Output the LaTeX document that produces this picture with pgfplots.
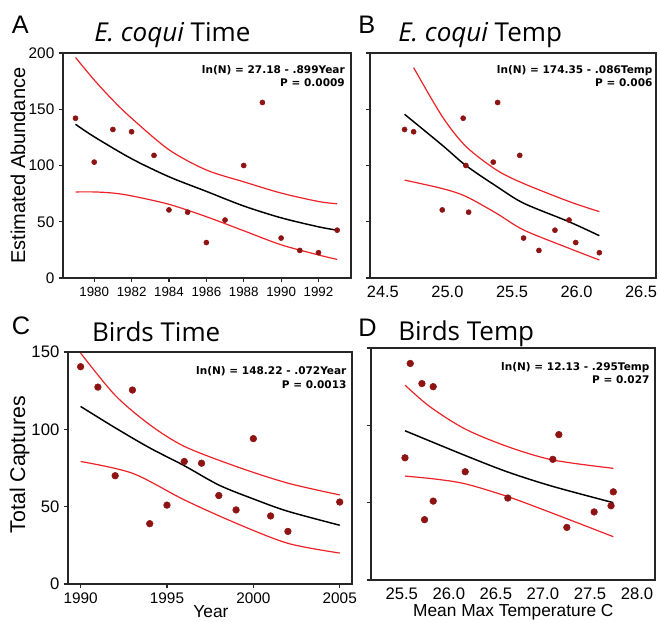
\documentclass[border=0pt]{standalone}
\usepackage{fontspec}
\setmainfont{Liberation Sans}
\newfontfamily\titlefont{Open Sans}
\newfontfamily\annfont{DejaVu Sans}
\usepackage{pgfplots}
\pgfplotsset{compat=1.18}

\definecolor{dotred}{HTML}{8E1414}
\definecolor{fitred}{HTML}{EC2227}
\definecolor{frame}{HTML}{262626}

\pgfplotsset{
  panel/.style={
    scale only axis,
    axis line style={frame, line width=1.2pt},
    tick pos=left, tick align=outside, major tick length=3pt,
    tick style={frame, line width=0.8pt},
    /pgf/number format/assume math mode=true,
    /pgf/number format/1000 sep={},
    clip=false,
  },
  % temperature panels: no x tick marks, y tick marks drawn by hand
  noticks/.style={
    major tick length=0pt,
    yticklabels={},
    xticklabel style={yshift=-2.2pt},
  },
  pts/.style={only marks, mark=*, mark size=#1, color=dotred},
  fitline/.style={black, line width=1.1pt, smooth, no marks},
  band/.style={fitred, line width=0.9pt, smooth, no marks},
}
\tikzset{
  ann/.style={anchor=north east, align=right, inner sep=0pt,
    font=\annfont\bfseries\fontsize{7.9}{10}\selectfont},
  lbl/.style={anchor=base west, inner sep=0pt, font=\fontsize{19}{22}\selectfont},
  ttl/.style={anchor=base west, inner sep=0pt, font=\titlefont\fontsize{19.5}{22}\selectfont},
  ytk/.style={frame, line width=0.8pt},
}
\newcommand{\ytick}[1]{\draw[ytk] (rel axis cs:0,#1) -- ([xshift=-3pt]rel axis cs:0,#1);}

\begin{document}
\begin{tikzpicture}
\useasboundingbox (0,0) rectangle (495pt,465.75pt);

% ---------- A: E. coqui, time ----------
\begin{axis}[panel,
  at={(47.25pt,257.25pt)}, anchor=south west,
  width=216pt, height=168.75pt,
  xmin=1978.33, xmax=1993.74, ymin=0, ymax=200,
  xtick={1980,1982,...,1992}, ytick={0,50,100,150,200},
  xticklabel style={font=\fontsize{10}{12}\selectfont},
  yticklabel style={font=\fontsize{11.5}{13}\selectfont},
]
\addplot[band] coordinates {(1979,196)(1980,176)(1981,158)(1982,142)(1984,114)(1986,96)(1988,85.5)(1990,75.5)(1992,68)(1993,66)};
\addplot[band] coordinates {(1979,76.5)(1980,76.5)(1981,75.5)(1982,73)(1984,65.5)(1986,54.5)(1988,42)(1990,29.5)(1992,20.5)(1993,16.5)};
\addplot[fitline] coordinates {(1979,136.6)(1980,125.5)(1982,106)(1984,90)(1986,77)(1988,64)(1990,53.5)(1992,45.5)(1993,42.5)};
\addplot[pts=1.9pt] coordinates {(1979,142)(1980,103)(1981,132)(1982,130)(1983.2,109)(1984,60.5)(1985,58.5)(1986,31.5)(1987,51.5)(1988,100)(1989,156)(1990,35.5)(1991,24.5)(1992,22.5)(1993,42.5)};
\node[ann, xshift=-4.5pt, yshift=-9pt] at (rel axis cs:1,1) {ln(N) = 27.18 - .899Year\\P = 0.0009};
\end{axis}

% ---------- B: E. coqui, temperature ----------
\begin{axis}[panel, noticks,
  at={(277.5pt,257.25pt)}, anchor=south west,
  width=214.5pt, height=168.75pt,
  xmin=24.40, xmax=26.616, ymin=0, ymax=200,
  xtick={24.5,25,...,26.5}, ytick={0,50,100,150,200},
  xticklabel style={font=\fontsize{12.3}{14}\selectfont, /pgf/number format/.cd, fixed, fixed zerofill, precision=1},
]
\ytick{0}\ytick{0.25}\ytick{0.5}\ytick{0.75}\ytick{1}
\addplot[band] coordinates {(24.738,187)(24.96,143.5)(25.143,117)(25.38,96)(25.59,84)(25.942,68)(26.177,59)};
\addplot[band] coordinates {(24.668,87)(24.96,79.5)(25.143,72.5)(25.38,57.5)(25.59,42.7)(25.942,26.4)(26.177,16)};
\addplot[fitline] coordinates {(24.668,145.5)(24.96,118)(25.143,100)(25.38,81.5)(25.59,66.5)(25.942,50)(26.177,37.6)};
\addplot[pts=1.9pt] coordinates {(24.668,132)(24.738,130)(24.96,60.5)(25.122,142)(25.143,100)(25.164,58.5)(25.355,103)(25.389,156)(25.56,109)(25.59,35.5)(25.709,24.5)(25.833,42.5)(25.942,51.5)(25.994,31.5)(26.177,22.5)};
\node[ann, xshift=-2.5pt, yshift=-9pt] at (rel axis cs:1,1) {ln(N) = 174.35 - .086Temp\\P = 0.006};
\end{axis}

% ---------- C: birds, time ----------
\begin{axis}[panel,
  at={(51pt,27.75pt)}, anchor=south west,
  width=213pt, height=174pt,
  xmin=1989.27, xmax=2005.71, ymin=0, ymax=150,
  xtick={1990,1995,2000,2005}, ytick={0,50,100,150},
  xticklabel style={font=\fontsize{11.5}{13}\selectfont},
  yticklabel style={font=\fontsize{12.5}{14}\selectfont},
]
\addplot[band] coordinates {(1990,149.3)(1992,122)(1994,103)(1996,89)(1999,76)(2002,65.2)(2005,57.6)};
\addplot[band] coordinates {(1990,79.2)(1993,71.6)(1996,54.4)(1999,39.3)(2002,26.3)(2005,20)};
\addplot[fitline] coordinates {(1990,114.8)(1992,101)(1994,88)(1996,76.5)(1998,64)(2000,55)(2002,47)(2005,38)};
\addplot[pts=2.5pt] coordinates {(1990,140.5)(1991,127.3)(1992,70)(1993,125.4)(1994,39)(1995,51)(1996,79.2)(1997,78.1)(1998,57.2)(1999,47.9)(2000,94)(2001,44)(2002,34)(2005,53)};
\node[ann, xshift=-4pt, yshift=-11pt] at (rel axis cs:1,1) {ln(N) = 148.22 - .072Year\\P = 0.0013};
\end{axis}

% ---------- D: birds, temperature ----------
\begin{axis}[panel, noticks,
  at={(278.25pt,30.75pt)}, anchor=south west,
  width=213pt, height=174pt,
  xmin=25.173, xmax=28.191, ymin=0, ymax=150,
  xtick={25.5,26,...,28}, ytick={0,50,100,150},
  xticklabel style={font=\fontsize{12.5}{14}\selectfont, /pgf/number format/.cd, fixed, fixed zerofill, precision=1},
]
\ytick{0}\ytick{0.3333}\ytick{0.6667}\ytick{1}
\addplot[band] coordinates {(25.534,126)(25.80,112)(26.174,97.6)(26.627,86.2)(27.105,77.6)(27.748,72.2)};
\addplot[band] coordinates {(25.534,67.2)(25.85,65.3)(26.174,62.2)(26.627,53.9)(27.105,43.1)(27.748,28)};
\addplot[fitline] coordinates {(25.534,96.5)(26.174,80.5)(26.627,69.8)(27.105,60.5)(27.748,50)};
\addplot[pts=2.5pt] coordinates {(25.534,79)(25.59,140)(25.714,127)(25.742,39)(25.834,125)(25.834,51)(26.174,70)(26.627,53)(27.105,78)(27.169,94)(27.254,34)(27.544,44)(27.724,48)(27.748,57)};
\node[ann, xshift=-4pt, yshift=-10.3pt] at (rel axis cs:1,1) {ln(N) = 12.13 - .295Temp\\P = 0.027};
\end{axis}

% ---------- panel letters, titles, axis labels ----------
\node[lbl] at (8.8pt,440.8pt) {A};
\node[lbl] at (268.5pt,440.8pt) {B};
\node[lbl] at (8.8pt,214.5pt) {C};
\node[lbl] at (268.5pt,213.2pt) {D};

\node[ttl] at (70.5pt,434.5pt) {\itshape E. coqui\upshape{} Time};
\node[ttl] at (298.5pt,434.5pt) {\itshape E. coqui\upshape{} Temp};
\node[ttl] at (68.8pt,209.25pt) {Birds Time};
\node[ttl] at (298.5pt,210.5pt) {Birds Temp};

\node[rotate=90, anchor=base, inner sep=0pt, font=\fontsize{15}{18}\selectfont] at (18.75pt,341.6pt) {Estimated Abundance};
\node[rotate=90, anchor=base, inner sep=0pt, font=\fontsize{16}{19}\selectfont] at (18.75pt,117.4pt) {Total Captures};
\node[anchor=base, inner sep=0pt, font=\fontsize{13}{15}\selectfont] at (158.25pt,2.6pt) {Year};
\node[anchor=base, inner sep=0pt, font=\fontsize{13}{15}\selectfont] at (385pt,3.75pt) {Mean Max Temperature C};
\end{tikzpicture}
\end{document}
